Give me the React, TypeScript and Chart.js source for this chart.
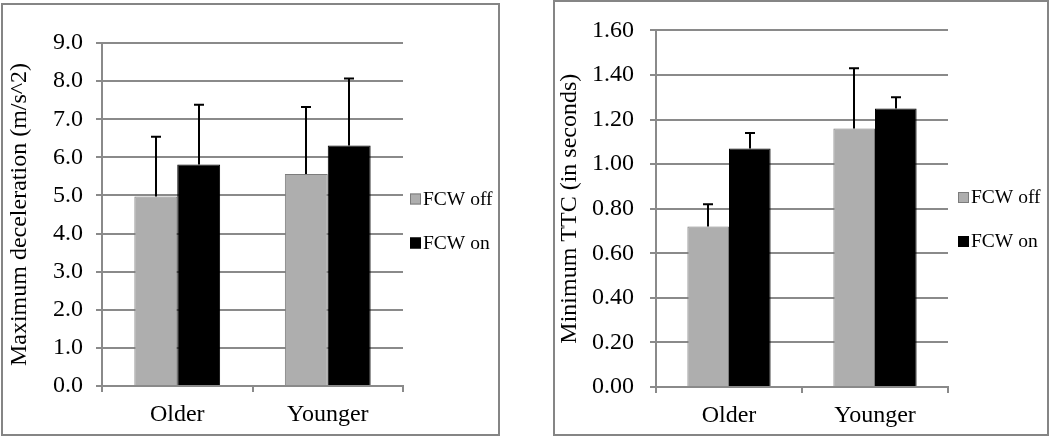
import React, { useEffect, useRef } from "react";
import { Chart, registerables } from "chart.js";

Chart.register(...registerables);

// ---------- data ----------
const categories = ["Older", "Younger"];
const seriesLabels = ["FCW off", "FCW on"];

const decelOff = [4.97, 5.56];
const decelOn = [5.81, 6.31];
const decelOffErr = [1.57, 1.76];
const decelOnErr = [1.57, 1.76];

const ttcOff = [0.72, 1.16];
const ttcOn = [1.07, 1.25];
const ttcOffErr = [0.1, 0.27];
const ttcOnErr = [0.07, 0.05];

const decelAxisTitle = "Maximum deceleration (m/s^2)";
const ttcAxisTitle = "Minimum TTC (in seconds)";

// ---------- styling ----------
const FONT = "'Liberation Serif', 'Times New Roman', serif";
const GRAY_FILL = "#aeaeae";
const GRAY_EDGE = "#7c7c7c";
const GRID = "#8a8a8a";

type BoxSpec = {
  left: number;
  top: number;
  width: number;
  height: number;
  yWidth: number;
  xHeight: number;
  padTop: number;
  padRight: number;
  tickPad: number;
  titlePad: number;
  legendGap: number;
  max: number;
  step: number;
  decimals: number;
  title: string;
  off: number[];
  on: number[];
  offErr: number[];
  onErr: number[];
};

function makeConfig(s: BoxSpec): any {
  const errors = [s.offErr, s.onErr];
  const errorBars = {
    id: "errorBars",
    afterDatasetsDraw(chart: any) {
      const ctx = chart.ctx;
      const yScale = chart.scales.y;
      ctx.save();
      ctx.strokeStyle = "#000";
      ctx.lineWidth = 2;
      chart.data.datasets.forEach((ds: any, i: number) => {
        const meta = chart.getDatasetMeta(i);
        meta.data.forEach((bar: any, j: number) => {
          const v = ds.data[j];
          const top = yScale.getPixelForValue(v + errors[i][j]);
          const x = Math.round(bar.x);
          ctx.beginPath();
          ctx.moveTo(x, bar.y);
          ctx.lineTo(x, top);
          ctx.moveTo(x - 5, top);
          ctx.lineTo(x + 5, top);
          ctx.stroke();
        });
      });
      ctx.restore();
    },
  };
  const sideLegend = {
    id: "sideLegend",
    afterDraw(chart: any) {
      const ctx = chart.ctx;
      const area = chart.chartArea;
      const cy = chart.height / 2;
      const rows = [cy - 21, cy + 23];
      ctx.save();
      ctx.font = `19.5px ${FONT}`;
      ctx.textBaseline = "middle";
      ctx.textAlign = "left";
      chart.data.datasets.forEach((ds: any, i: number) => {
        const x = area.right + s.legendGap;
        const y = rows[i];
        ctx.fillStyle = ds.backgroundColor;
        ctx.fillRect(x, y - 5, 11, 11);
        ctx.strokeStyle = ds.borderColor;
        ctx.lineWidth = 1;
        ctx.strokeRect(x + 0.5, y - 4.5, 10, 10);
        ctx.fillStyle = "#000";
        ctx.fillText(ds.label, x + 13, y + 1);
      });
      ctx.restore();
    },
  };
  return {
    type: "bar",
    data: {
      labels: categories,
      datasets: [
        {
          label: seriesLabels[0],
          data: s.off,
          backgroundColor: GRAY_FILL,
          borderColor: GRAY_EDGE,
          borderWidth: 1,
          barPercentage: 1,
          categoryPercentage: 0.57,
        },
        {
          label: seriesLabels[1],
          data: s.on,
          backgroundColor: "#000",
          borderColor: "#000",
          borderWidth: 1,
          barPercentage: 1,
          categoryPercentage: 0.57,
        },
      ],
    },
    options: {
      responsive: false,
      animation: false,
      layout: { padding: { top: s.padTop, right: s.padRight, bottom: 0, left: 0 } },
      plugins: {
        legend: { display: false },
        tooltip: { enabled: false },
        title: { display: false },
      },
      scales: {
        x: {
          offset: true,
          grid: {
            offset: true,
            drawOnChartArea: false,
            drawTicks: true,
            tickLength: 6,
            color: GRID,
            lineWidth: 2,
          },
          border: { display: true, color: GRID, width: 2 },
          ticks: { color: "#000", padding: 8, font: { family: FONT, size: 24 } },
          afterFit: (scale: any) => {
            scale.height = s.xHeight;
          },
        },
        y: {
          min: 0,
          max: s.max,
          ticks: {
            stepSize: s.step,
            color: "#000",
            padding: s.tickPad,
            font: { family: FONT, size: 24 },
            callback: (v: any) => Number(v).toFixed(s.decimals),
          },
          grid: { color: GRID, lineWidth: 2, tickLength: 6 },
          border: { display: true, color: GRID, width: 2 },
          title: {
            display: true,
            text: s.title,
            color: "#000",
            font: { family: FONT, size: 24 },
            padding: { top: s.titlePad, bottom: 0 },
          },
          afterFit: (scale: any) => {
            scale.width = s.yWidth;
          },
        },
      },
    },
    plugins: [errorBars, sideLegend],
  };
}

function ChartBox({ spec }: { spec: BoxSpec }) {
  const ref = useRef<HTMLCanvasElement | null>(null);
  useEffect(() => {
    if (!ref.current) return;
    const chart = new Chart(ref.current, makeConfig(spec));
    return () => chart.destroy();
  }, []);
  return (
    <>
      <canvas
        ref={ref}
        width={spec.width}
        height={spec.height}
        style={{
          position: "absolute",
          left: spec.left,
          top: spec.top,
          width: spec.width,
          height: spec.height,
        }}
      />
      <div
        style={{
          position: "absolute",
          left: spec.left,
          top: spec.top,
          width: spec.width,
          height: spec.height,
          border: "2px solid #858585",
          boxSizing: "border-box",
          pointerEvents: "none",
        }}
      />
    </>
  );
}

const leftSpec: BoxSpec = {
  left: 1,
  top: 3,
  width: 499,
  height: 433,
  yWidth: 101,
  xHeight: 50,
  padTop: 40,
  padRight: 97,
  tickPad: 13,
  titlePad: 4.6,
  legendGap: 7,
  max: 9,
  step: 1,
  decimals: 1,
  title: decelAxisTitle,
  off: decelOff,
  on: decelOn,
  offErr: decelOffErr,
  onErr: decelOnErr,
};

const rightSpec: BoxSpec = {
  left: 553,
  top: 0,
  width: 496,
  height: 436,
  yWidth: 103,
  xHeight: 49,
  padTop: 21,
  padRight: 101,
  tickPad: 16,
  titlePad: 2.6,
  legendGap: 10,
  max: 1.6,
  step: 0.2,
  decimals: 2,
  title: ttcAxisTitle,
  off: ttcOff,
  on: ttcOn,
  offErr: ttcOffErr,
  onErr: ttcOnErr,
};

export default function App() {
  return (
    <div
      style={{
        position: "absolute",
        left: 0,
        top: 0,
        width: 1050,
        height: 437,
        background: "#fff",
        overflow: "hidden",
      }}
    >
      <ChartBox spec={leftSpec} />
      <ChartBox spec={rightSpec} />
    </div>
  );
}
